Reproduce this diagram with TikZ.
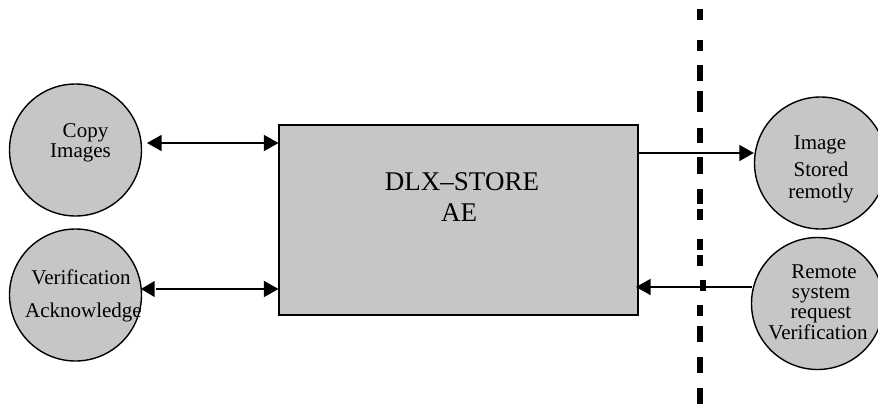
\documentclass[tikz,border=0pt]{standalone}
\usepackage{fontspec}
\setmainfont{Liberation Serif}
\usetikzlibrary{arrows.meta}
\definecolor{boxgrey}{RGB}{197,198,200}
\tikzset{
  x=1pt,y=-1pt,
  circ/.style={circle,draw=black,line width=1.4pt,fill=boxgrey,minimum size=132pt,inner sep=0pt},
  lab/.style={inner sep=0pt,font=\fontsize{21}{21}\selectfont,anchor=base},
  biglab/.style={inner sep=0pt,font=\fontsize{27}{27}\selectfont,anchor=base},
  conn/.style={line width=1.4pt,draw=black},
  tip/.tip={Triangle[length=14.5pt,width=16pt]},
  head/.style={-tip},
  dashseg/.style={line width=6pt,draw=black}
}
\begin{document}
\begin{tikzpicture}
\useasboundingbox (0,0) rectangle (878,405);
\clip (0,0) rectangle (878,405);
% divider
\foreach \a/\b in {9/20,40/51,65/81,91/112,128/143,157/174,189/204,209/220,239/250,255/266,305/316,326/342,357/373,388/404}
  \draw[dashseg] (700,\a) -- (700,\b);
\draw[dashseg] (703,280) -- (703,291);
% shapes
\node[draw=black,line width=1.1pt,fill=boxgrey,minimum width=359pt,minimum height=190pt,inner sep=0pt] (store) at (458.5,220) {};
\node[circ] (copy) at (75.5,150) {};
\node[circ] (ack) at (75.5,295) {};
\node[circ] (stored) at (820.5,163) {};
\node[circ] (remote) at (817.5,303.5) {};
% texts
\node[biglab] (t1) at (462,190) {DLX–STORE};
\node[biglab] (t2) at (459,221) {AE};
\node[lab] (c1) at (85.5,137) {Copy};
\node[lab] (c2) at (80.5,157) {Images};
\node[lab] (v1) at (81,284) {Verification};
\node[lab] (v2) at (83.5,317) {Acknowledge};
\node[lab] (i1) at (820,149) {Image};
\node[lab] (i2) at (821,176) {Stored};
\node[lab] (i3) at (821,198) {remotly};
\node[lab] (r1) at (824,278) {Remote};
\node[lab] (r2) at (821,298) {system};
\node[lab] (r3) at (821,318) {request};
\node[lab] (r4) at (818,339) {Verification};
% connector ends
\coordinate (a1) at (147,143);
\coordinate (a2) at (store.west |- a1);
\coordinate (b1) at (156,289);
\coordinate (b0) at (141,289);
\coordinate (b2) at (store.west |- b1);
\coordinate (d1) at (store.east |- 0,153);
\coordinate (d2) at (stored.west |- d1);
\coordinate (e1) at (751.5,287);
\coordinate (e2) at (636,287);
\draw[conn,tip-tip] (a1) -- (a2);
\draw[conn,head] (b1) -- (b2);
\fill[black] (b0) -- (154.5,281) -- (154.5,297) -- cycle;
\draw[conn,head] (d1) -- (d2);
\draw[conn,head] (e1) -- (e2);
\end{tikzpicture}
\end{document}
